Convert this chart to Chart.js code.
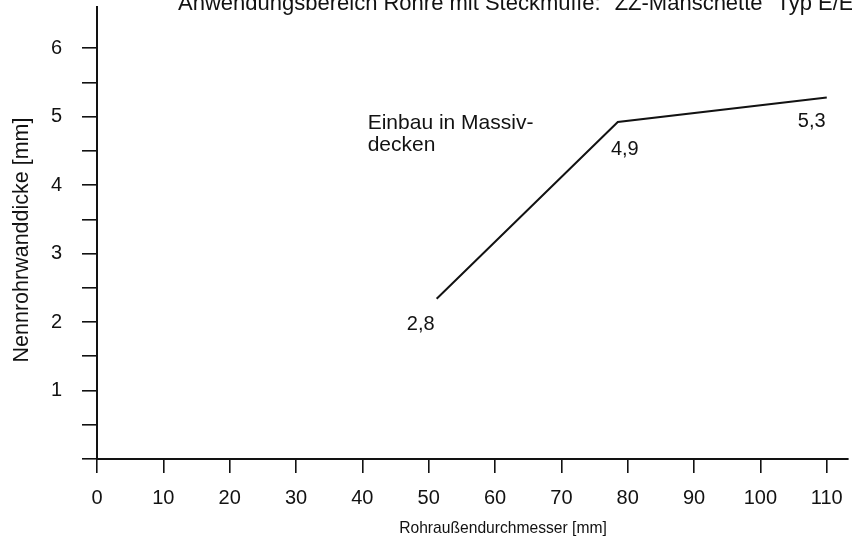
<!DOCTYPE html>
<html><head><meta charset="utf-8">
<script src="https://cdn.jsdelivr.net/npm/chart.js@4.4.1/dist/chart.umd.min.js"></script>
<style>html,body{margin:0;padding:0;background:#fff}#wrap{width:852px;height:547px}</style>
</head><body><div id="wrap"><canvas id="c" width="852" height="547"></canvas></div>
<script>
// ---- data ----
const diameters = [51.2, 78.5, 110];      // Rohraußendurchmesser [mm]
const thickness = [2.34, 4.92, 5.28];     // Nennrohrwanddicke [mm] (as drawn)
const pointLabels = ['2,8', '4,9', '5,3'];
const xTicks = [0, 10, 20, 30, 40, 50, 60, 70, 80, 90, 100, 110];
const yTicks = [0, 0.5, 1, 1.5, 2, 2.5, 3, 3.5, 4, 4.5, 5, 5.5, 6];
const yLabeled = [1, 2, 3, 4, 5, 6];
const titleText = 'Anwendungsbereich Rohre mit Steckmuffe: "ZZ-Manschette" Typ E/ES';
const noteLines = ['Einbau in Massiv-', 'decken'];
const xTitle = 'Rohraußendurchmesser [mm]';
const yTitle = 'Nennrohrwanddicke [mm]';

const FONT = '"Liberation Sans", Arial, sans-serif';
const INK = '#121212';

const textPlugin = {
  id: 'textPlugin',
  afterDraw(chart) {
    const ctx = chart.ctx;
    const xs = chart.scales.x, ys = chart.scales.y;
    ctx.save();
    ctx.fillStyle = INK;
    ctx.textBaseline = 'alphabetic';
    // clipped page title
    ctx.font = '22px ' + FONT;
    ctx.textAlign = 'left';
    ctx.fillText(titleText, 178, 10);
    // point value labels (baseline offsets from the point)
    const offs = [[-16, 31], [7, 33], [-15, 30]];
    ctx.font = '20px ' + FONT;
    ctx.textAlign = 'center';
    pointLabels.forEach((t, i) => {
      const px = xs.getPixelForValue(diameters[i]);
      const py = ys.getPixelForValue(thickness[i]);
      ctx.fillText(t, px + offs[i][0], py + offs[i][1]);
    });
    // note
    ctx.font = '21px ' + FONT;
    ctx.textAlign = 'left';
    const nx = xs.getPixelForValue(40.8), ny = ys.getPixelForValue(4.82);
    noteLines.forEach((t, i) => ctx.fillText(t, nx, ny + i * 22));
    // x axis title
    ctx.save();
    ctx.font = '17px ' + FONT;
    ctx.textAlign = 'center';
    ctx.translate(503, 533);
    ctx.scale(0.92, 1);
    ctx.fillText(xTitle, 0, 0);
    ctx.restore();
    // y axis title
    ctx.save();
    ctx.font = '21.5px ' + FONT;
    ctx.textAlign = 'center';
    ctx.textBaseline = 'middle';
    ctx.translate(22, 240);
    ctx.rotate(-Math.PI / 2);
    ctx.fillText(yTitle, 0, 0);
    ctx.restore();
    ctx.restore();
  }
};

const noPad = s => { s.paddingTop = 0; s.paddingBottom = 0; s.paddingLeft = 0; s.paddingRight = 0; };

new Chart(document.getElementById('c'), {
  type: 'line',
  data: {
    datasets: [{
      data: diameters.map((d, i) => ({ x: d, y: thickness[i] })),
      borderColor: INK,
      borderWidth: 2,
      pointRadius: 0,
      tension: 0,
      fill: false
    }]
  },
  options: {
    responsive: false,
    animation: false,
    devicePixelRatio: 1,
    layout: { padding: { top: 7, right: 4, left: 0, bottom: 0 } },
    plugins: { legend: { display: false }, tooltip: { enabled: false } },
    scales: {
      x: {
        type: 'linear', min: 0, max: 113.2,
        afterBuildTicks: s => { s.ticks = xTicks.map(v => ({ value: v })); },
        afterFit: s => { s.height = 88; noPad(s); },
        grid: { display: true, drawOnChartArea: false, drawTicks: true, tickLength: 14, color: INK, lineWidth: 1.6 },
        border: { display: true, color: INK, width: 2 },
        ticks: { color: INK, font: { family: FONT, size: 20 }, padding: 13, maxRotation: 0, autoSkip: false },
        title: { display: false }
      },
      y: {
        type: 'linear', min: 0, max: 6.6,
        afterBuildTicks: s => { s.ticks = yTicks.map(v => ({ value: v })); },
        afterFit: s => { s.width = 97; noPad(s); },
        grid: { display: true, drawOnChartArea: false, drawTicks: true, tickLength: 15, color: INK, lineWidth: 1.6 },
        border: { display: true, color: INK, width: 2 },
        ticks: { color: INK, font: { family: FONT, size: 20 }, padding: 20, autoSkip: false,
                 callback: v => yLabeled.includes(v) ? String(v) : '' },
        title: { display: false }
      }
    }
  },
  plugins: [textPlugin]
});
</script>
</body></html>
